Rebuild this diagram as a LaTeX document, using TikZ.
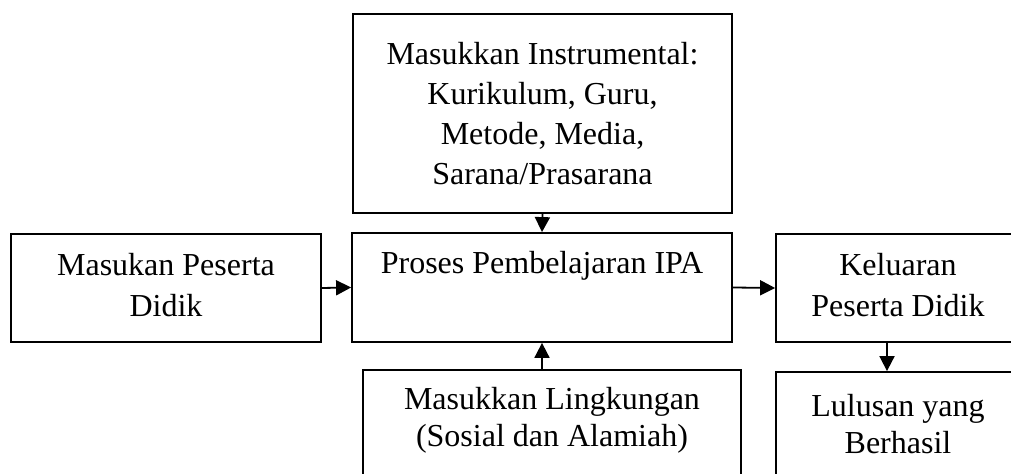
\documentclass[tikz,border=0pt]{standalone}
\usepackage{fontspec}
\setmainfont{Liberation Serif}
\usetikzlibrary{arrows.meta,positioning}
\tikzset{
    box/.style={rectangle,draw,line width=0.9pt,inner sep=0pt,align=center,
                font=\fontsize{16}{20}\selectfont},
    pre/.style={-{Triangle[length=7.5pt,width=7.5pt]},line width=0.9pt}
}

\begin{document}
\begin{tikzpicture}
                    \useasboundingbox (0,0) rectangle (505.5pt,-237pt);

                    \node[box,minimum width=189.5pt,minimum height=99.5pt] (instr) at (271.25pt,-56.75pt)
                        {Masukkan Instrumental:\\Kurikulum, Guru,\\Metode, Media,\\Sarana/Prasarana};

                    \node[box,minimum width=190pt,minimum height=54.5pt,text depth=25.5pt] (proses) at (271pt,-143.75pt)
                        {Proses Pembelajaran IPA};

                    \node[box,minimum width=155pt,minimum height=54pt,font=\fontsize{16}{20.5}\selectfont,text depth=3pt] (masukan) at (83pt,-144pt)
                        {Masukan Peserta\\Didik};

                    \node[box,minimum width=122pt,minimum height=54pt,font=\fontsize{16}{20.5}\selectfont,text depth=3pt] (keluaran) at (449pt,-144pt)
                        {Keluaran\\Peserta Didik};

                    \node[box,minimum width=122pt,minimum height=56pt,font=\fontsize{16}{18.5}\selectfont,text depth=4.4pt] (lulusan) at (449pt,-214pt)
                        {Lulusan yang\\Berhasil};

                    \node[box,minimum width=189pt,minimum height=56pt,font=\fontsize{16}{18.5}\selectfont,text depth=9pt] (lingkungan) at (276pt,-213pt)
                        {Masukkan Lingkungan\\(Sosial dan Alamiah)};

                    \draw[pre] (instr.south) -- (proses.north);
                    \draw[pre] (masukan.east) -- (proses.west);
                    \draw[pre] (proses.east) -- (keluaran.west);
                    \draw[pre] ([xshift=-5.5pt]keluaran.south) -- ([xshift=-5.5pt]lulusan.north);
                    \draw[pre] (proses.south |- lingkungan.north) -- (proses.south);
                \end{tikzpicture}
\end{document}
